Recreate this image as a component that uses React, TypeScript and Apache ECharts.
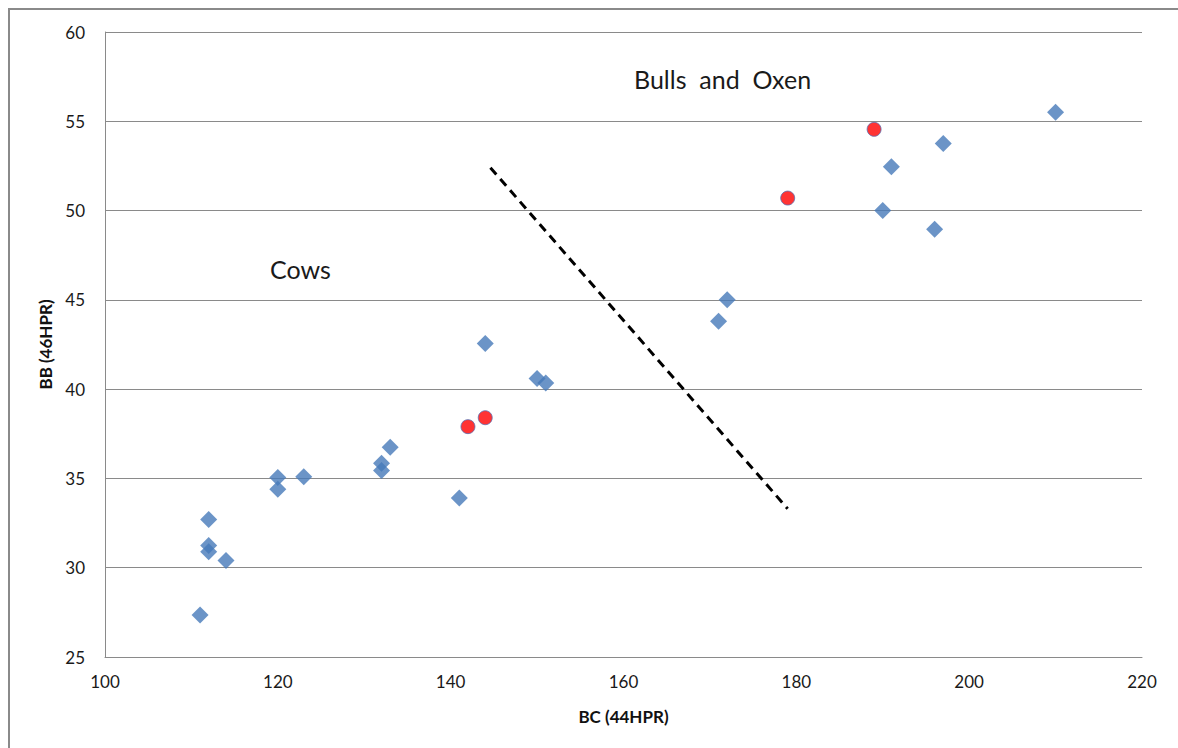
import React, { useEffect, useRef } from "react";
import * as echarts from "echarts";

// Blue diamond points: [BC (44HPR), BB (46HPR)]
const bluePoints: number[][] = [
  [111, 27.35],
  [112, 32.7],
  [112, 31.25],
  [112, 30.9],
  [114, 30.4],
  [120, 35.05],
  [120, 34.4],
  [123, 35.1],
  [132, 35.85],
  [132, 35.45],
  [133, 36.75],
  [141, 33.9],
  [144, 42.55],
  [150, 40.6],
  [151, 40.35],
  [171, 43.8],
  [172, 45.0],
  [190, 50.0],
  [191, 52.45],
  [196, 48.95],
  [197, 53.75],
  [210, 55.5],
];

// Red circle points
const redPoints: number[][] = [
  [142, 37.9],
  [144, 38.4],
  [179, 50.7],
  [189, 54.55],
];

// Dashed dividing line end points
const dividerLine: number[][] = [
  [144.6, 52.4],
  [179.0, 33.3],
];

const xAxisMin = 100;
const xAxisMax = 220;
const xAxisStep = 20;
const yAxisMin = 25;
const yAxisMax = 60;
const yAxisStep = 5;

const xAxisTitle = "BC (44HPR)";
const yAxisTitle = "BB (46HPR)";
const groupLabels = ["Bulls  and  Oxen", "Cows"];

export default function App() {
  const ref = useRef<HTMLDivElement>(null);

  useEffect(() => {
    if (!ref.current) return;
    const chart = echarts.init(ref.current, undefined, { renderer: "svg" });
    const font = "Lato, 'Open Sans', sans-serif";
    const gridColor = "#8a8a8a";
    chart.setOption({
      animation: false,
      backgroundColor: "#ffffff",
      textStyle: { fontFamily: font },
      grid: { left: 105, top: 32, right: 36, bottom: 91, containLabel: false },
      xAxis: {
        type: "value",
        min: xAxisMin,
        max: xAxisMax,
        interval: xAxisStep,
        name: xAxisTitle,
        nameLocation: "middle",
        nameGap: 51,
        nameTextStyle: { fontFamily: font, fontWeight: "bold", fontSize: 17, color: "#111111" },
        axisLine: { show: true, onZero: false, lineStyle: { color: gridColor, width: 1 } },
        axisTick: { show: false },
        axisLabel: { fontFamily: font, fontSize: 17, color: "#1a1a1a", margin: 16 },
        splitLine: { show: false },
      },
      yAxis: {
        type: "value",
        min: yAxisMin,
        max: yAxisMax,
        interval: yAxisStep,
        name: yAxisTitle,
        nameLocation: "middle",
        nameGap: 50,
        nameTextStyle: { fontFamily: font, fontWeight: "bold", fontSize: 17, color: "#111111" },
        axisLine: { show: true, onZero: false, lineStyle: { color: gridColor, width: 1 } },
        axisTick: { show: false },
        axisLabel: { fontFamily: font, fontSize: 17, color: "#1a1a1a", margin: 20 },
        splitLine: { show: true, lineStyle: { color: gridColor, width: 1 } },
      },
      graphic: [
        {
          type: "line",
          shape: { x1: 9, y1: 9, x2: 9, y2: 760 },
          style: { stroke: "#8a8a8a", lineWidth: 2 },
          silent: true,
          z: 100,
        },
        {
          type: "line",
          shape: { x1: 8, y1: 9, x2: 1190, y2: 9 },
          style: { stroke: "#8a8a8a", lineWidth: 2 },
          silent: true,
          z: 100,
        },
        {
          type: "text",
          x: 634,
          y: 66,
          style: { text: groupLabels[0], fontFamily: font, fontSize: 25, fill: "#1a1a1a" },
        },
        {
          type: "text",
          x: 270,
          y: 256,
          style: { text: groupLabels[1], fontFamily: font, fontSize: 25, fill: "#1a1a1a" },
        },
      ],
      series: [
        {
          type: "line",
          data: dividerLine,
          symbol: "none",
          lineStyle: { color: "#000000", width: 3, type: [9, 6] },
          z: 3,
        },
        {
          type: "scatter",
          data: bluePoints,
          symbol: "diamond",
          symbolSize: 17,
          itemStyle: { color: "#4679b9" },
          z: 4,
        },
        {
          type: "scatter",
          data: redPoints,
          symbol: "circle",
          symbolSize: 14,
          itemStyle: { color: "#ff0000", borderColor: "#5b6fb0", borderWidth: 1 },
          z: 5,
        },
      ],
    });
    return () => chart.dispose();
  }, []);

  return (
    <div
      ref={ref}
      style={{ position: "fixed", left: 0, top: 0, width: 1178, height: 748 }}
    />
  );
}
